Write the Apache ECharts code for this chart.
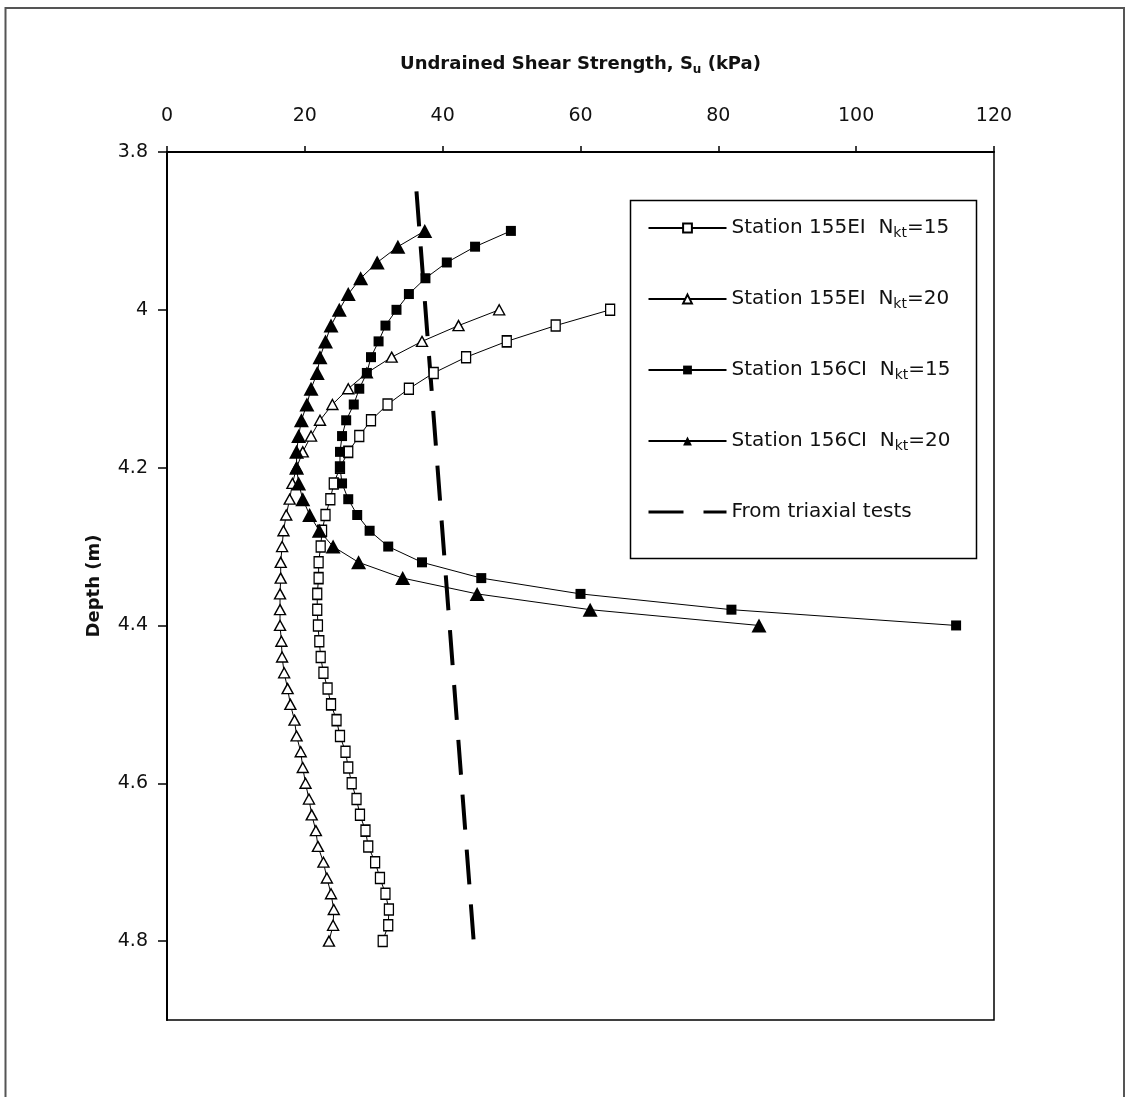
<!DOCTYPE html>
<html>
<head>
<meta charset="utf-8">
<script src="https://cdn.jsdelivr.net/npm/echarts@6/dist/echarts.min.js"></script>
<style>
  html, body { margin: 0; padding: 0; background: #fff; }
  #chart { width: 1126px; height: 1097px; }
</style>
</head>
<body>
<div id="chart"></div>
<script>
// ---- Data ----
const xTicks = [0, 20, 40, 60, 80, 100, 120];
const yTicks = [3.8, 4.0, 4.2, 4.4, 4.6, 4.8];

// Station 155EI depths (m)
const depth155EI = [4.00, 4.02, 4.04, 4.06, 4.08, 4.10, 4.12, 4.14, 4.16, 4.18,
                    4.20, 4.22, 4.24, 4.26, 4.28, 4.30, 4.32, 4.34, 4.36, 4.38,
                    4.40, 4.42, 4.44, 4.46, 4.48, 4.50, 4.52, 4.54, 4.56, 4.58,
                    4.60, 4.62, 4.64, 4.66, 4.68, 4.70, 4.72, 4.74, 4.76, 4.78, 4.80];
// Station 155EI, Nkt = 15 (kPa)
const su155EI_Nkt15 = [64.3, 56.4, 49.3, 43.4, 38.7, 35.1, 32.0, 29.6, 27.9, 26.3,
                       25.1, 24.2, 23.7, 23.0, 22.5, 22.3, 22.0, 22.0, 21.8, 21.8,
                       21.9, 22.1, 22.3, 22.7, 23.3, 23.8, 24.6, 25.1, 25.9, 26.3,
                       26.8, 27.5, 28.0, 28.8, 29.2, 30.2, 30.9, 31.7, 32.2, 32.1, 31.3];
// Station 155EI, Nkt = 20 (kPa)
const su155EI_Nkt20 = [48.2, 42.3, 37.0, 32.6, 29.0, 26.3, 24.0, 22.2, 20.9, 19.7,
                       18.8, 18.2, 17.8, 17.3, 16.9, 16.7, 16.5, 16.5, 16.4, 16.4,
                       16.4, 16.6, 16.7, 17.0, 17.5, 17.9, 18.5, 18.8, 19.4, 19.7,
                       20.1, 20.6, 21.0, 21.6, 21.9, 22.7, 23.2, 23.8, 24.2, 24.1, 23.5];

// Station 156CI depths (m)
const depth156CI = [3.90, 3.92, 3.94, 3.96, 3.98, 4.00, 4.02, 4.04, 4.06, 4.08,
                    4.10, 4.12, 4.14, 4.16, 4.18, 4.20, 4.22, 4.24, 4.26, 4.28,
                    4.30, 4.32, 4.34, 4.36, 4.38, 4.40];
// Station 156CI, Nkt = 15 (kPa)
const su156CI_Nkt15 = [49.9, 44.7, 40.6, 37.5, 35.1, 33.3, 31.7, 30.7, 29.6, 29.0,
                       27.9, 27.1, 26.0, 25.4, 25.1, 25.1, 25.4, 26.3, 27.6, 29.4,
                       32.1, 37.0, 45.6, 60.0, 81.9, 114.5];
// Station 156CI, Nkt = 20 (kPa)
const su156CI_Nkt20 = [37.4, 33.5, 30.5, 28.1, 26.3, 25.0, 23.8, 23.0, 22.2, 21.8,
                       20.9, 20.3, 19.5, 19.1, 18.8, 18.8, 19.1, 19.7, 20.7, 22.1,
                       24.1, 27.8, 34.2, 45.0, 61.4, 85.9];

// From triaxial tests
const triaxialDepth = [3.85, 4.80];
const triaxialSu = [36.2, 44.5];

const seriesNames = [
  'Station 155EI  Nkt=15',
  'Station 155EI  Nkt=20',
  'Station 156CI  Nkt=15',
  'Station 156CI  Nkt=20',
  'From triaxial tests'
];
const legendRich = {
  'Station 155EI  Nkt=15': '{t|Station 155EI  N}{s|kt}{t|=15}',
  'Station 155EI  Nkt=20': '{t|Station 155EI  N}{s|kt}{t|=20}',
  'Station 156CI  Nkt=15': '{t|Station 156CI  N}{s|kt}{t|=15}',
  'Station 156CI  Nkt=20': '{t|Station 156CI  N}{s|kt}{t|=20}',
  'From triaxial tests': '{t|From triaxial tests}'
};

function pairs(xs, ys) { return xs.map(function (v, i) { return [v, ys[i]]; }); }

const FONT = 'DejaVu Sans';
const INK = '#111';
const DASH = [35, 20];

const chart = echarts.init(document.getElementById('chart'), null, { renderer: 'canvas' });

const option = {
  animation: false,
  backgroundColor: '#fff',
  grid: {
    left: 167, right: 132, top: 152, bottom: 77,
    show: true, borderColor: '#000', borderWidth: 1.5, backgroundColor: 'transparent'
  },
  graphic: [
    {
      type: 'polyline',
      shape: { points: [[5.5, 1097], [5.5, 8], [1124, 8], [1124, 1097]] },
      style: { stroke: '#555', lineWidth: 2, fill: null },
      silent: true
    },
    {
      type: 'rect',
      shape: { x: 630.5, y: 200.5, width: 346, height: 358 },
      style: { stroke: '#000', lineWidth: 1.5, fill: null },
      silent: true, z: 10
    }
  ],
  xAxis: {
    type: 'value',
    position: 'top',
    min: 0, max: 120, interval: 20,
    name: '{b|Undrained Shear Strength, S}{bs|u}{b| (kPa)}',
    nameLocation: 'middle',
    nameGap: 76,
    nameTextStyle: {
      rich: {
        b: { fontFamily: FONT, fontWeight: 'bold', fontSize: 18, color: INK, lineHeight: 24 },
        bs: { fontFamily: FONT, fontWeight: 'bold', fontSize: 12, color: INK, lineHeight: 14, verticalAlign: 'bottom' }
      }
    },
    axisLine: { show: true, lineStyle: { color: '#000', width: 2 } },
    axisTick: { show: true, inside: false, length: 6, lineStyle: { color: '#000', width: 1.5 } },
    axisLabel: {
      show: true, margin: 26, fontFamily: FONT, fontSize: 19, color: INK,
      customValues: xTicks
    },
    splitLine: { show: false }
  },
  yAxis: {
    type: 'value',
    inverse: true,
    min: 3.8, max: 4.9, interval: 0.2,
    name: 'Depth (m)',
    nameLocation: 'middle',
    nameGap: 64,
    nameRotate: 90,
    nameTextStyle: { fontFamily: FONT, fontWeight: 'bold', fontSize: 18, color: INK },
    axisLine: { show: true, onZero: false, lineStyle: { color: '#000', width: 2 } },
    axisTick: { show: true, inside: false, length: 9, lineStyle: { color: '#000', width: 1.5 }, customValues: yTicks },
    axisLabel: {
      show: true, margin: 19, fontFamily: FONT, fontSize: 19, color: INK,
      customValues: yTicks
    },
    splitLine: { show: false }
  },
  legend: {
    orient: 'vertical',
    left: 647, top: 218,
    padding: 0,
    itemWidth: 78, itemHeight: 11,
    itemGap: 49,
    selectedMode: false,
    data: [
      { name: seriesNames[0] },
      { name: seriesNames[1] },
      { name: seriesNames[2] },
      { name: seriesNames[3] },
      {
        name: seriesNames[4],
        itemStyle: { color: 'rgba(0,0,0,0)', borderWidth: 0, opacity: 0 },
        lineStyle: { color: '#000', width: 3, type: DASH }
      }
    ],
    formatter: function (name) { return legendRich[name]; },
    textStyle: {
      fontFamily: FONT, fontSize: 20, color: INK,
      rich: {
        t: { fontFamily: FONT, fontSize: 20, color: INK, lineHeight: 24 },
        s: { fontFamily: FONT, fontSize: 14, color: INK, lineHeight: 12, verticalAlign: 'bottom' }
      }
    }
  },
  series: [
    {
      name: seriesNames[0], type: 'line',
      data: pairs(su155EI_Nkt15, depth155EI),
      symbol: 'rect', symbolSize: [9, 11], showAllSymbol: true,
      itemStyle: { color: '#fff', borderColor: '#000', borderWidth: 1.4 },
      lineStyle: { color: '#000', width: 1 },
      emphasis: { disabled: true }
    },
    {
      name: seriesNames[1], type: 'line',
      data: pairs(su155EI_Nkt20, depth155EI),
      symbol: 'triangle', symbolSize: [11, 10], showAllSymbol: true,
      itemStyle: { color: '#fff', borderColor: '#000', borderWidth: 1.4 },
      lineStyle: { color: '#000', width: 1 },
      emphasis: { disabled: true }
    },
    {
      name: seriesNames[2], type: 'line',
      data: pairs(su156CI_Nkt15, depth156CI),
      symbol: 'rect', symbolSize: 10, showAllSymbol: true,
      itemStyle: { color: '#000', borderColor: '#000', borderWidth: 0 },
      lineStyle: { color: '#000', width: 1 },
      emphasis: { disabled: true }
    },
    {
      name: seriesNames[3], type: 'line',
      data: pairs(su156CI_Nkt20, depth156CI),
      symbol: 'triangle', symbolSize: [15, 14], showAllSymbol: true,
      itemStyle: { color: '#000', borderColor: '#000', borderWidth: 0 },
      lineStyle: { color: '#000', width: 1 },
      emphasis: { disabled: true }
    },
    {
      name: seriesNames[4], type: 'line',
      data: pairs(triaxialSu, triaxialDepth),
      symbol: 'none',
      itemStyle: { color: '#000' },
      lineStyle: { color: '#000', width: 4, type: DASH },
      emphasis: { disabled: true }
    }
  ]
};

chart.setOption(option);
</script>
</body>
</html>
